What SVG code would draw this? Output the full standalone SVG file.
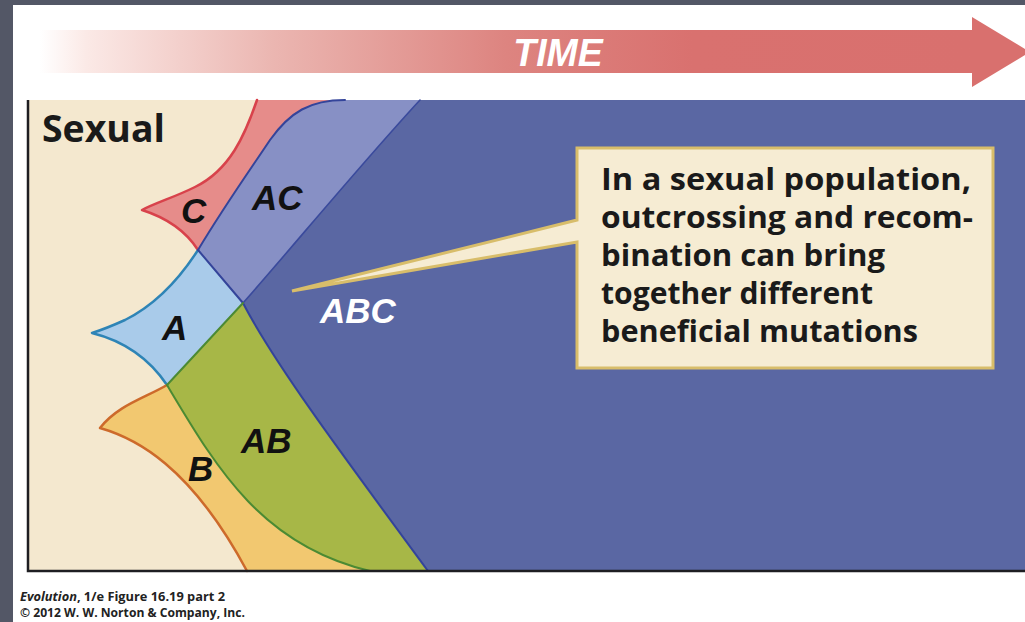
<svg xmlns="http://www.w3.org/2000/svg" width="1025" height="622" viewBox="0 0 1025 622">
  <defs>
    <linearGradient id="timeGrad" x1="40" y1="0" x2="972" y2="0" gradientUnits="userSpaceOnUse">
      <stop offset="0" stop-color="#ffffff"/>
      <stop offset="0.05" stop-color="#fbe9e6"/>
      <stop offset="0.25" stop-color="#ebb6b1"/>
      <stop offset="0.5" stop-color="#dd8480"/>
      <stop offset="0.7" stop-color="#d9716f"/>
      <stop offset="1" stop-color="#d9706e"/>
    </linearGradient>
    <style>
      .edge { fill: none; stroke-linecap: round; stroke-linejoin: round; }
      .lbl { font-family: "Liberation Sans", Arial, sans-serif; font-weight: 700; font-style: italic; font-size: 35px; }
      .note { font-family: "Open Sans", "Noto Sans", sans-serif; font-weight: 700; font-size: 31px; fill: #1a1a1a; }
      .foot { font-family: "Open Sans", "Noto Sans", sans-serif; font-weight: 700; font-size: 13px; fill: #222; }
    </style>
  </defs>

  <!-- page frame -->
  <rect x="0" y="0" width="1025" height="622" fill="#535766"/>
  <rect x="13" y="5" width="1012" height="617" fill="#ffffff"/>

  <!-- time arrow -->
  <g id="time-arrow">
    <path d="M40,30 L972,30 L972,17 L1030,52 L972,87 L972,73 L40,73 Z" fill="url(#timeGrad)"/>
    <text x="558" y="66" text-anchor="middle" font-family="'Liberation Sans', Arial, sans-serif" font-weight="700" font-style="italic" font-size="39" fill="#ffffff" transform="translate(558 0) scale(0.96 1) translate(-558 0)">TIME</text>
  </g>

  <!-- plot panel -->
  <g id="panel">
    <rect x="28" y="100" width="997" height="471" fill="#f4e8cf"/>

    <!-- ABC -->
    <path id="region-ABC" d="M420,100 L1025,100 L1025,571 L428,571 C350,465 275,365 243,303 C290,250 360,165 420,100 Z" fill="#5a67a3"/>
    <!-- AC -->
    <path id="region-AC" d="M198,250 C225,205 250,170 270,140 C290,112 310,100 345,100 L420,100 C360,165 290,250 243,303 Z" fill="#8790c5"/>
    <!-- C -->
    <path id="region-C" d="M257,100 C245,135 230,170 195,187 C175,197 155,203 142,210 Q180,222 198,250 C225,205 250,170 270,140 C290,112 310,100 345,100 Z" fill="#e68c8a"/>
    <!-- A -->
    <path id="region-A" d="M198,250 C180,278 155,305 125,320 Q105,329 92,333 Q140,345 167,385 L243,303 Z" fill="#a9cbea"/>
    <!-- AB -->
    <path id="region-AB" d="M243,303 L167,385 C215,465 260,545 370,571 L428,571 C350,465 275,365 243,303 Z" fill="#a7b747"/>
    <!-- B -->
    <path id="region-B" d="M167,385 C145,398 118,405 100,428 C135,438 190,465 247,571 L370,571 C260,545 215,465 167,385 Z" fill="#f2c870"/>

    <!-- outlines -->
    <path class="edge" d="M257,100 C245,135 230,170 195,187 C175,197 155,203 142,210 Q180,222 198,250" stroke="#d8424b" stroke-width="2.5"/>
    <path class="edge" d="M198,250 C180,278 155,305 125,320 Q105,329 92,333 Q140,345 167,385" stroke="#2e84b6" stroke-width="2.5"/>
    <path class="edge" d="M167,385 C145,398 118,405 100,428 C135,438 190,465 247,571" stroke="#cd6a2b" stroke-width="2.5"/>
    <path class="edge" d="M198,250 C225,205 250,170 270,140 C290,112 310,100 345,100" stroke="#34449a" stroke-width="2"/>
    <path class="edge" d="M198,250 L243,303" stroke="#34449a" stroke-width="2"/>
    <path class="edge" d="M243,303 C290,250 360,165 420,100" stroke="#3a4a9c" stroke-width="1.6"/>
    <path class="edge" d="M243,303 C275,365 350,465 428,571" stroke="#34449a" stroke-width="2"/>
    <path class="edge" d="M243,303 L167,385" stroke="#4b8a33" stroke-width="2"/>
    <path class="edge" d="M167,385 C215,465 260,545 370,571" stroke="#4b8a33" stroke-width="2"/>

    <!-- panel border -->
    <path d="M28,100 L28,571 L1025,571" fill="none" stroke="#1e1e22" stroke-width="2.5"/>

    <text x="42" y="142" font-family="'Open Sans', 'Noto Sans', sans-serif" font-weight="700" font-size="37" fill="#1a1a1a" textLength="123" lengthAdjust="spacingAndGlyphs">Sexual</text>

    <!-- genotype labels -->
    <text class="lbl" x="181" y="223" fill="#111">C</text>
    <text class="lbl" x="252" y="210" fill="#111">AC</text>
    <text class="lbl" x="162" y="340" fill="#111">A</text>
    <text class="lbl" x="320" y="323" fill="#ffffff">ABC</text>
    <text class="lbl" x="241" y="453" fill="#111">AB</text>
    <text class="lbl" x="188" y="481" fill="#111">B</text>
  </g>

  <!-- callout -->
  <g id="callout">
    <path d="M577,148 L993,148 L993,368 L577,368 L577,242 L292,291 L577,220 Z" fill="#f6ecd3" stroke="#d8bd6a" stroke-width="3" stroke-linejoin="miter"/>
    <text class="note" x="601" y="190" textLength="370" lengthAdjust="spacingAndGlyphs">In a sexual population,</text>
    <text class="note" x="601" y="228" textLength="372" lengthAdjust="spacingAndGlyphs">outcrossing and recom-</text>
    <text class="note" x="601" y="266" textLength="284" lengthAdjust="spacingAndGlyphs">bination can bring</text>
    <text class="note" x="601" y="304" textLength="272" lengthAdjust="spacingAndGlyphs">together different</text>
    <text class="note" x="601" y="342" textLength="317" lengthAdjust="spacingAndGlyphs">beneficial mutations</text>
  </g>

  <!-- credit -->
  <g id="credit">
    <text class="foot" x="20" y="601" textLength="205" lengthAdjust="spacingAndGlyphs"><tspan font-style="italic">Evolution</tspan>, 1/e  Figure 16.19 part 2</text>
    <text class="foot" x="20" y="617" textLength="225" lengthAdjust="spacingAndGlyphs">© 2012 W. W. Norton &amp; Company, Inc.</text>
  </g>
</svg>
